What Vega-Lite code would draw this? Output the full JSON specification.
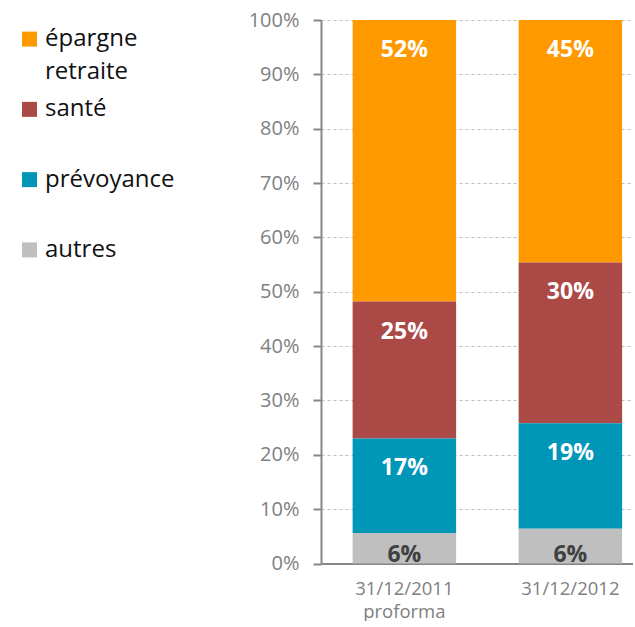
{
  "$schema": "https://vega.github.io/schema/vega-lite/v6.json",
  "padding": {"left": 0, "top": 10, "right": 0, "bottom": 0},
  "bounds": "flush",
  "spacing": 262,
  "config": {
    "view": {"stroke": null},
    "font": "Open Sans",
    "axisY": {
      "domainColor": "#868686", "domainWidth": 2,
      "tickColor": "#868686", "tickWidth": 2, "tickSize": 8,
      "labelColor": "#808080", "labelFont": "Open Sans", "labelFontSize": 20, "labelPadding": 14,
      "gridColor": "#bfbfbf", "gridDash": [3, 3], "gridWidth": 1
    },
    "axisX": {
      "domainColor": "#868686", "domainWidth": 2, "ticks": false, "tickSize": 0,
      "labelColor": "#808080", "labelFont": "Open Sans", "labelFontSize": 18.5, "labelPadding": 16,
      "labelLineHeight": 23, "grid": false, "labelAngle": 0, "zindex": 1
    }
  },
  "datasets": {
    "parts": [
      {"date": "31/12/2011 proforma", "cat": "épargne retraite", "value": 0.518},
      {"date": "31/12/2011 proforma", "cat": "santé", "value": 0.252},
      {"date": "31/12/2011 proforma", "cat": "prévoyance", "value": 0.174},
      {"date": "31/12/2011 proforma", "cat": "autres", "value": 0.056},
      {"date": "31/12/2012", "cat": "épargne retraite", "value": 0.446},
      {"date": "31/12/2012", "cat": "santé", "value": 0.296},
      {"date": "31/12/2012", "cat": "prévoyance", "value": 0.194},
      {"date": "31/12/2012", "cat": "autres", "value": 0.064}
    ],
    "legende": [
      {"cat": "épargne retraite"},
      {"cat": "santé"},
      {"cat": "prévoyance"},
      {"cat": "autres"}
    ]
  },
  "hconcat": [
    {
      "width": 59,
      "height": 249,
      "data": {"name": "legende"},
      "encoding": {
        "y": {
          "field": "cat", "type": "nominal",
          "scale": {"type": "point", "domain": ["épargne retraite", "santé", "prévoyance", "autres"], "padding": 0.272},
          "axis": null
        }
      },
      "layer": [
        {
          "mark": {"type": "point", "shape": "square", "filled": true, "size": 225, "opacity": 1},
          "encoding": {
            "color": {
              "field": "cat", "type": "nominal",
              "scale": {"domain": ["épargne retraite", "santé", "prévoyance", "autres"], "range": ["#FF9900", "#AB4946", "#0096B8", "#BFBFBF"]},
              "legend": null
            }
          }
        },
        {
          "mark": {"type": "text", "align": "left", "baseline": "alphabetic", "dx": 15.5, "dy": 7, "fontSize": 24, "lineBreak": " ", "lineHeight": 33, "color": "#111111", "font": "Open Sans"},
          "encoding": {"text": {"field": "cat"}}
        }
      ]
    },
    {
      "width": 312,
      "height": 543.5,
      "data": {"name": "parts"},
      "encoding": {
        "x": {
          "field": "date", "type": "nominal", "sort": null,
          "scale": {"paddingInner": 0.3765, "paddingOuter": 0.128, "align": 0.744},
          "axis": {"title": null, "labelExpr": "split(datum.label, ' ')"}
        }
      },
      "layer": [
        {
          "mark": {"type": "bar"},
          "encoding": {
            "y": {
              "field": "value", "type": "quantitative", "stack": "zero",
              "scale": {"domain": [0, 1], "nice": false},
              "axis": {"title": null, "format": ".0%", "values": [0, 0.1, 0.2, 0.3, 0.4, 0.5, 0.6, 0.7, 0.8, 0.9, 1]}
            },
            "color": {
              "field": "cat", "type": "nominal",
              "scale": {"domain": ["épargne retraite", "santé", "prévoyance", "autres"], "range": ["#FF9900", "#AB4946", "#0096B8", "#BFBFBF"]},
              "legend": null
            },
            "order": {"field": "cat", "sort": "ascending"}
          }
        },
        {
          "transform": [
            {"stack": "value", "groupby": ["date"], "sort": [{"field": "cat", "order": "ascending"}], "as": ["v0", "v1"]},
            {"filter": "datum.cat !== 'autres'"}
          ],
          "mark": {"type": "text", "dy": 30, "fontWeight": "bold", "fontSize": 23, "color": "#ffffff", "baseline": "middle", "font": "Open Sans"},
          "encoding": {
            "y": {"field": "v1", "type": "quantitative", "axis": {"title": null, "format": ".0%", "values": [0, 0.1, 0.2, 0.3, 0.4, 0.5, 0.6, 0.7, 0.8, 0.9, 1]}},
            "text": {"field": "value", "format": ".0%"}
          }
        },
        {
          "transform": [
            {"stack": "value", "groupby": ["date"], "sort": [{"field": "cat", "order": "ascending"}], "as": ["v0", "v1"]},
            {"filter": "datum.cat === 'autres'"}
          ],
          "mark": {"type": "text", "dy": -9, "fontWeight": "bold", "fontSize": 23, "color": "#404040", "baseline": "middle", "font": "Open Sans"},
          "encoding": {
            "y": {"field": "v0", "type": "quantitative", "axis": {"title": null, "format": ".0%", "values": [0, 0.1, 0.2, 0.3, 0.4, 0.5, 0.6, 0.7, 0.8, 0.9, 1]}},
            "text": {"field": "value", "format": ".0%"}
          }
        }
      ]
    }
  ]
}
